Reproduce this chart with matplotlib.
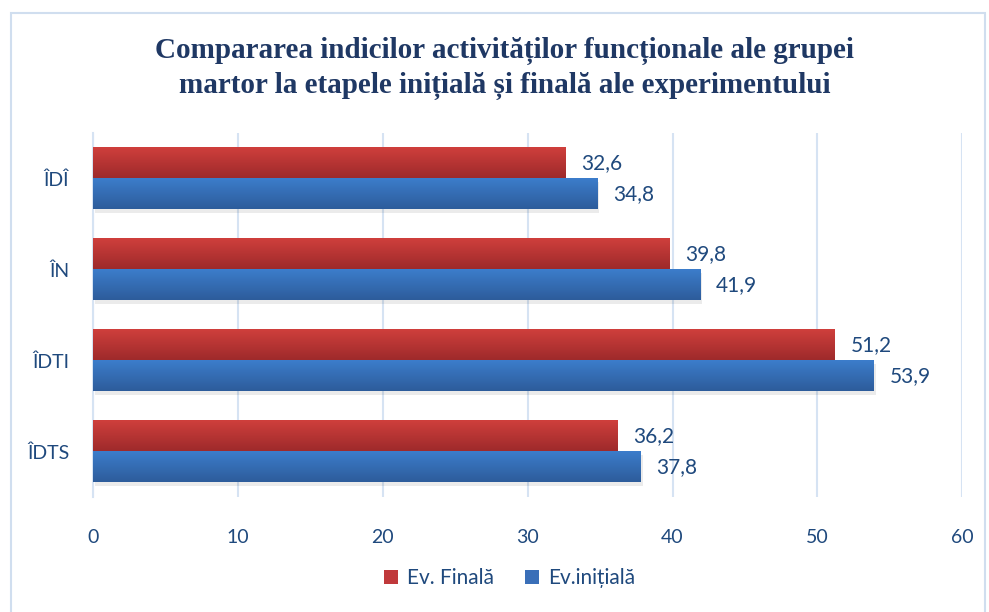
import numpy as np
import matplotlib.pyplot as plt
from matplotlib.colors import LinearSegmentedColormap
from matplotlib.patches import Rectangle

# Date
categorii = ['ÎDÎ', 'ÎN', 'ÎDTI', 'ÎDTS']
ev_finala = [32.6, 39.8, 51.2, 36.2]
ev_initiala = [34.8, 41.9, 53.9, 37.8]
xticks = [0, 10, 20, 30, 40, 50, 60]

text_color = '#1F497D'
grid_color = '#D6E3F3'
red_grad = LinearSegmentedColormap.from_list('r', ['#9E2A2B', '#CF3F3C'])
blue_grad = LinearSegmentedColormap.from_list('b', ['#2D5C9B', '#3C7DCB'])

plt.rcParams['font.family'] = ['Lato', 'DejaVu Sans']

fig = plt.figure(figsize=(9.89, 6.12), dpi=100)
ax = fig.add_axes([0.094, 0.188, 0.879, 0.595])

# chenar exterior
fig.patches.append(Rectangle((0.011, -0.01), 0.985, 0.988, transform=fig.transFigure,
                             fill=False, edgecolor='#D0DEEF', linewidth=1.5))

y = np.arange(len(categorii))
h = 0.34

# umbra usoara sub bare
ax.barh(y + h / 2 + 0.04, ev_initiala, height=h, left=0.15, color='#000000', alpha=0.08, zorder=2)

bars_r = ax.barh(y - h / 2, ev_finala, height=h, color='#C0393B', label='Ev. Finală', zorder=3)
bars_b = ax.barh(y + h / 2, ev_initiala, height=h, color='#3A6FB8', label='Ev.inițială', zorder=3)

# gradient pe bare
grad = np.linspace(0, 1, 64).reshape(-1, 1)
for bars, cmap in ((bars_r, red_grad), (bars_b, blue_grad)):
    for b in bars:
        x0, y0 = b.get_x(), b.get_y()
        w, hh = b.get_width(), b.get_height()
        im = ax.imshow(grad, cmap=cmap, aspect='auto', extent=(x0, x0 + w, y0, y0 + hh),
                       origin='upper', zorder=4)
        im.set_clip_path(b)

for bars, vals in ((bars_r, ev_finala), (bars_b, ev_initiala)):
    for b, v in zip(bars, vals):
        ax.text(v + 1.1, b.get_y() + b.get_height() / 2, str(v).replace('.', ','),
                va='center', ha='left', fontsize=15, color=text_color, zorder=5)

ax.set_xlim(0, 60)
ax.set_ylim(3.5, -0.5)
ax.set_xticks(xticks)
ax.set_yticks(y)
ax.set_yticklabels(categorii)
ax.tick_params(axis='both', length=0, labelsize=14, labelcolor=text_color)
ax.tick_params(axis='x', pad=23)
ax.tick_params(axis='y', pad=17)
ax.grid(axis='x', color=grid_color, linewidth=1.5, zorder=0)
for s in ['top', 'right', 'bottom']:
    ax.spines[s].set_visible(False)
ax.spines['left'].set_color(grid_color)
ax.spines['left'].set_linewidth(1.5)

fig.text(0.51, 0.888, 'Compararea indicilor activităților funcționale ale grupei\n'
         'martor la etapele inițială și finală ale experimentului',
         ha='center', va='center', fontsize=21, fontweight='bold',
         family='Liberation Serif', color='#1F3864', linespacing=1.32)

fig.legend(handles=[bars_r, bars_b], loc='center', bbox_to_anchor=(0.515, 0.055), ncol=2,
           frameon=False, fontsize=15, labelcolor=text_color, handlelength=0.7,
           handleheight=0.7, columnspacing=1.5, handletextpad=0.4)

fig.savefig('out.png', dpi=100)
